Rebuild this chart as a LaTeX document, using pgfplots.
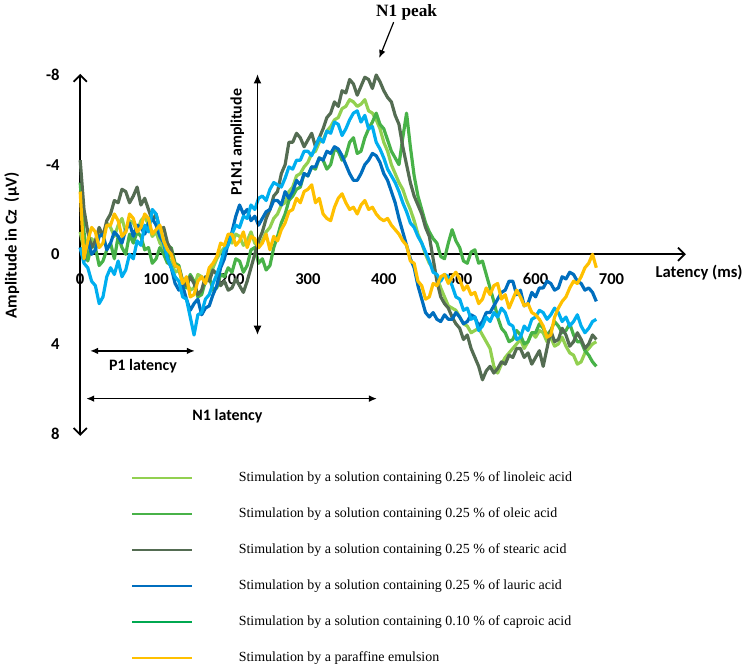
\documentclass[border=0pt]{standalone}
\usepackage{pgfplots}
\pgfplotsset{compat=1.18}
\usepackage{pgfplotstable}
\usepackage{fontspec}
\setmainfont{Liberation Serif}
\newfontfamily\carl{Carlito}
\usetikzlibrary{arrows.meta}
\definecolor{clin}{RGB}{146,208,80}
\definecolor{cole}{RGB}{72,178,72}
\definecolor{cste}{RGB}{84,108,82}
\definecolor{clau}{RGB}{0,110,190}
\definecolor{clbl}{RGB}{0,174,239}
\definecolor{ccap}{RGB}{0,168,80}
\definecolor{cyel}{RGB}{255,192,0}

\pgfplotstableread{
t lin ole ste lau lbl yel
0 -1.0 -3.2 -4.2 -0.3 -0.3 -2.8
5 -0.2 -1.0 -2.0 0.3 0.4 0.2
10 0.0 0.3 -1.0 -0.6 0.6 -0.6
15 -0.7 -0.4 -0.3 0.0 1.2 -1.2
20 -0.5 -0.3 -0.6 -0.2 1.4 -1.0
25 -1.1 0.5 -1.2 -0.8 2.2 -0.3
30 -0.8 0.3 -0.8 -0.9 1.9 -0.5
35 -1.4 -0.2 -1.5 -0.2 1.0 -1.3
40 -1.2 -0.5 -1.8 -0.5 0.6 -1.3
45 -0.8 0.2 -2.4 -1.0 0.9 -1.8
50 -1.3 -0.8 -2.3 -0.8 0.3 -1.5
55 -1.6 -0.3 -2.9 -0.5 1.0 -0.8
60 -1.0 0.0 -2.8 -1.1 0.7 -1.0
65 -1.5 -0.9 -2.3 -1.4 0.0 -1.8
70 -1.4 -0.5 -2.6 -0.8 0.2 -1.6
75 -1.0 -1.0 -3.0 -1.3 -0.6 -1.0
80 -1.5 -0.8 -2.2 -1.2 -0.4 -1.2
85 -1.7 -0.2 -2.5 -0.9 -1.3 -1.8
90 -1.3 -0.3 -2.0 -1.4 -1.0 -1.6
95 -0.8 0.4 -1.5 -1.6 -2.0 -0.9
100 -1.0 0.2 -1.8 -1.3 -1.8 -1.1
105 -0.5 -0.3 -1.1 -0.8 -1.1 -1.3
110 -0.3 0.0 -1.2 -0.5 -0.6 -0.6
115 0.2 0.4 -0.5 0.2 0.2 -0.2
120 0.3 -0.3 -0.2 0.6 0.6 0.0
125 0.8 0.4 0.5 1.3 1.0 0.5
130 0.7 0.5 0.6 1.6 1.2 0.6
135 1.3 1.2 1.2 1.4 1.9 1.3
140 1.2 1.5 1.4 2.0 2.0 1.0
145 1.6 0.9 1.0 2.5 2.8 1.9
150 1.5 1.2 1.3 2.2 3.6 1.8
155 0.9 1.9 1.8 2.0 2.7 1.2
160 1.0 1.8 1.6 2.7 2.6 1.0
165 1.3 1.2 1.0 2.4 2.0 1.3
170 0.8 1.0 1.2 2.3 1.8 0.6
175 0.6 1.6 0.7 1.8 1.3 0.4
180 0.2 1.5 0.9 1.4 0.9 0.1
185 -0.1 0.9 1.4 0.6 0.4 -0.5
190 -0.3 1.0 1.2 0.2 -0.2 -0.4
195 -0.7 0.6 1.6 -0.5 -0.4 -0.9
200 -0.5 0.8 1.5 -1.0 -0.9 -0.9
205 -0.9 0.2 1.1 -1.7 -1.3 -0.4
210 -0.8 0.3 1.4 -2.2 -1.2 -0.6
215 -0.4 0.8 1.7 -1.8 -1.7 -1.0
220 -0.6 0.5 1.2 -2.0 -1.6 -0.3
225 -1.0 -0.2 0.6 -1.5 -2.2 -0.8
230 -0.5 -0.3 0.0 -1.7 -2.0 -0.7
235 -0.3 0.4 -0.6 -1.3 -2.5 -0.3
240 -0.6 0.2 -1.0 -1.6 -2.6 -0.5
245 -1.0 0.7 -1.6 -1.9 -2.4 -0.9
250 -1.2 0.5 -2.0 -2.0 -2.9 -0.2
255 -1.6 -0.3 -2.6 -2.4 -3.2 -0.8
260 -1.8 -0.8 -2.8 -2.4 -3.1 -0.6
265 -2.2 -1.4 -3.6 -2.2 -3.0 -1.1
270 -2.3 -1.8 -4.0 -2.8 -3.4 -1.4
275 -2.8 -2.4 -5.0 -2.5 -3.9 -1.9
280 -3.0 -2.6 -5.0 -2.8 -3.8 -2.0
285 -3.5 -2.9 -5.4 -3.3 -4.2 -2.5
290 -3.6 -3.0 -5.2 -3.1 -4.2 -2.3
295 -3.9 -3.6 -4.8 -3.6 -4.6 -2.8
300 -4.1 -3.5 -5.1 -3.5 -4.6 -2.9
305 -4.5 -3.9 -5.4 -3.9 -4.4 -3.1
310 -4.6 -3.8 -4.8 -3.9 -4.8 -2.3
315 -5.0 -4.3 -5.2 -4.3 -5.2 -2.5
320 -5.1 -4.2 -5.6 -4.2 -5.0 -1.8
325 -5.5 -3.8 -6.1 -4.6 -5.5 -1.6
330 -5.7 -4.0 -6.3 -4.5 -5.4 -1.5
335 -6.0 -4.7 -6.8 -4.8 -5.9 -2.1
340 -6.1 -4.6 -6.6 -4.7 -5.8 -2.5
345 -6.5 -4.2 -7.3 -4.4 -5.3 -2.7
350 -6.6 -4.4 -7.2 -4.0 -5.6 -2.3
355 -6.9 -5.0 -7.8 -3.6 -6.0 -2.0
360 -6.8 -5.2 -7.6 -3.3 -6.3 -2.1
365 -6.6 -4.5 -7.1 -3.3 -6.4 -1.8
370 -6.7 -4.6 -7.5 -3.6 -5.9 -2.2
375 -6.9 -5.2 -7.9 -4.0 -6.2 -2.4
380 -6.4 -5.6 -7.8 -4.2 -5.6 -2.0
385 -6.3 -5.9 -7.4 -4.5 -5.7 -2.1
390 -6.0 -6.3 -8.0 -4.4 -5.0 -1.8
395 -5.6 -5.8 -7.7 -4.1 -4.7 -1.6
400 -5.0 -5.6 -7.3 -3.6 -4.3 -1.5
405 -4.6 -5.1 -7.0 -3.3 -3.8 -1.6
410 -4.0 -4.6 -6.8 -2.8 -3.5 -1.3
415 -3.6 -4.3 -6.2 -2.3 -3.2 -1.1
420 -3.2 -4.0 -5.8 -1.6 -2.8 -0.9
425 -2.9 -5.2 -4.8 -1.0 -2.3 -0.6
430 -2.4 -6.3 -4.0 -0.4 -1.9 -0.4
435 -2.0 -4.8 -3.2 0.2 -1.4 0.3
440 -1.5 -3.5 -2.6 0.6 -1.2 0.4
445 -0.9 -2.6 -2.2 1.4 -0.8 1.2
450 -0.5 -2.0 -1.8 2.0 -0.5 1.4
455 0.0 -1.4 -1.2 2.6 -0.1 2.0
460 0.4 -1.0 -0.8 2.8 0.3 1.9
465 0.6 -0.7 0.2 2.6 0.8 1.3
470 1.0 -0.5 1.2 2.9 0.9 1.4
475 1.5 0.1 1.9 3.0 1.2 1.0
480 1.9 0.2 2.2 2.7 0.9 0.9
485 2.3 -0.5 2.4 2.9 1.0 1.3
490 2.4 -1.1 2.8 2.9 1.4 1.0
495 2.5 -0.6 3.1 2.6 1.9 0.8
500 2.8 -0.3 3.3 2.8 2.0 1.1
505 3.1 0.3 3.8 3.1 2.5 1.6
510 3.2 0.4 3.6 3.0 2.4 1.4
515 3.5 -0.1 4.2 2.7 2.9 1.8
520 3.4 -0.2 4.6 2.8 2.8 1.7
525 3.3 0.4 5.0 3.2 3.4 2.2
530 3.6 0.3 5.6 3.0 3.2 2.0
535 3.9 0.9 5.2 2.6 2.8 1.5
540 4.2 1.5 5.0 2.6 3.0 1.8
545 5.0 2.1 5.3 2.3 2.6 1.4
550 5.3 2.8 5.1 2.0 2.8 1.3
555 4.9 3.3 4.8 1.7 2.4 2.0
560 4.6 3.5 4.9 1.6 2.6 1.8
565 4.4 3.9 4.5 1.2 3.1 2.4
570 4.2 3.8 4.6 1.2 3.2 2.0
575 4.0 3.4 4.2 1.8 3.8 1.6
580 3.8 3.6 4.2 1.6 3.7 1.9
585 4.2 4.0 4.6 2.3 3.2 2.3
590 3.9 3.9 4.4 2.2 3.4 2.2
595 3.5 3.5 4.9 1.7 2.9 2.6
600 3.7 3.5 4.6 1.9 2.8 2.7
605 3.4 3.1 4.3 1.5 2.5 2.9
610 3.5 3.3 5.0 1.5 2.6 3.2
615 3.9 3.6 4.2 1.2 2.9 3.7
620 3.7 3.4 3.4 1.3 2.7 3.6
625 4.1 3.0 3.9 1.6 2.4 2.8
630 4.0 3.2 3.8 1.5 2.6 2.4
635 3.7 3.5 3.3 1.0 3.0 2.1
640 4.1 3.4 3.6 1.1 2.8 1.9
645 4.4 3.1 4.1 0.8 3.2 1.5
650 4.5 3.6 3.9 0.9 3.0 1.2
655 4.9 3.9 3.5 1.2 2.7 1.3
660 4.8 3.9 3.8 1.3 3.2 1.0
665 4.4 4.3 4.2 1.6 3.5 0.6
670 4.2 4.5 4.0 1.5 3.3 0.4
675 4.0 4.8 3.6 1.7 3.0 0.0
680 3.9 5.0 3.8 2.1 2.9 0.6
}\eeg

\begin{document}
\begin{tikzpicture}
\begin{axis}[
  scale only axis, width=456pt, height=272.5pt,
  xmin=0, xmax=798, ymin=-8.05, ymax=8.1, y dir=reverse,
  axis lines=middle, clip=false,
  axis line style={line width=1.3pt},
  x axis line style={-{Straight Barb[length=5pt,width=10pt]}},
  y axis line style={{Straight Barb[length=5pt,width=10pt]}-{Straight Barb[length=5pt,width=10pt]}},
  hide obscured x ticks=false, hide obscured y ticks=false,
  major tick length=0pt,
  xtick={0,100,200,300,400,500,600,700},
  xticklabels={0,100,200,300,400,500,600,700},
  ytick={-8,-4,0,4,8}, yticklabels={-8,-4,0,4,8},
  /pgf/number format/assume math mode=true,
  tick label style={font=\carl\bfseries\fontsize{12.5}{14}\selectfont},
  xticklabel style={anchor=north, yshift=-11pt},
  yticklabel style={anchor=east, xshift=-12pt},
  legend style={at={(0.0839,-0.093)}, anchor=north west, draw=none, fill=none,
    inner sep=0pt, font=\fontsize{10.5}{12}\selectfont, row sep=15.2pt,
    nodes={inner sep=1pt, text height=7.5pt, text depth=2.5pt},
    /tikz/every odd column/.append style={column sep=33.5pt}},
  legend cell align=left,
  legend image code/.code={\draw[#1,line width=1.5pt] (0pt,0pt) -- (45pt,0pt);},
  every axis plot/.append style={line width=2.4pt, line join=round},
]
\addplot[clin] table[x=t,y=lin]{\eeg};
\addlegendentry{Stimulation by a solution containing 0.25 \% of linoleic acid}
\addplot[cole] table[x=t,y=ole]{\eeg};
\addlegendentry{Stimulation by a solution containing 0.25 \% of oleic acid}
\addplot[cste] table[x=t,y=ste]{\eeg};
\addlegendentry{Stimulation by a solution containing 0.25 \% of stearic acid}
\addplot[clau] table[x=t,y=lau]{\eeg};
\addlegendentry{Stimulation by a solution containing 0.25 \% of lauric acid}
\addplot[clbl, forget plot] table[x=t,y=lbl]{\eeg};
\addlegendimage{ccap, line width=2pt}
\addlegendentry{Stimulation by a solution containing 0.10 \% of caproic acid}
\addplot[cyel] table[x=t,y=yel]{\eeg};
\addlegendentry{Stimulation by a paraffine emulsion}

\node[font=\bfseries\fontsize{13}{15}\selectfont] at (axis cs:430,-10.8) {N1 peak};
\draw[-{Latex[length=6pt,width=5pt]}, line width=0.9pt] (axis cs:413,-10.36) -- (axis cs:394,-8.76);
\draw[{Latex[length=7pt,width=6pt]}-{Latex[length=7pt,width=6pt]}, line width=1.2pt] (axis cs:233.6,-8.04) -- (axis cs:233.6,3.6);
\node[rotate=90, font=\carl\bfseries\fontsize{12}{14}\selectfont] at (axis cs:207,-5.0) {P1N1 amplitude};
\draw[{Latex[length=6pt,width=5pt]}-{Latex[length=6pt,width=5pt]}, line width=1.1pt] (axis cs:13.1,4.31) -- (axis cs:151,4.31);
\node[font=\carl\bfseries\fontsize{12}{14}\selectfont] at (axis cs:82.7,4.98) {P1 latency};
\draw[{Latex[length=6pt,width=5pt]}-{Latex[length=6pt,width=5pt]}, line width=1.1pt] (axis cs:7.9,6.44) -- (axis cs:391,6.44);
\node[font=\carl\bfseries\fontsize{12}{14}\selectfont] at (axis cs:194,7.2) {N1 latency};
\node[anchor=west, font=\carl\bfseries\fontsize{12.5}{14}\selectfont] at (axis cs:752,0.8) {Latency (ms)};
\node[rotate=90, font=\carl\bfseries\fontsize{12.5}{14}\selectfont] at (axis cs:-90,-0.4) {Amplitude in Cz \ (µV)};
\path (axis cs:-105,-11.33) rectangle (axis cs:875.3,18.27);
\end{axis}
\end{tikzpicture}
\end{document}
